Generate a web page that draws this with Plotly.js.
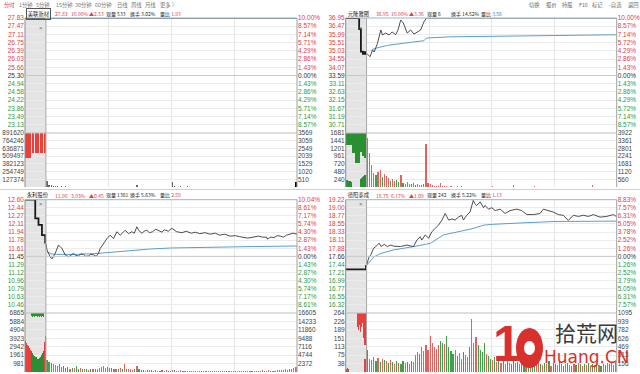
<!DOCTYPE html>
<html><head><meta charset="utf-8">
<script src="https://cdn.plot.ly/plotly-3.0.1.min.js"></script>
<style>html,body{margin:0;padding:0;background:#fff}#chart{width:640px;height:374px}</style>
</head><body><div id="chart"></div>
<script>
// ---------------- DATA ----------------
const menuTabs = ['分时','1分钟','5分钟','15分钟','30分钟','60分钟','日线','周线','月线','更多 〉'];
const menuTools = ['切换','报价','持股','F10','标记','-自选','返回'];

const names   = ['美联新材','元隆雅图','永利股份','德阳泰成'];
const lastPx  = ['27.83','36.95','11.90','18.75'];
const lastPct = ['10.00%','10.00%','3.93%','6.17%'];
const change  = ['▲2.53','▲3.36','▲0.45','▲1.09'];
const curVol  = ['533','6','1381','242'];
const turnover= ['3.02%','14.52%','5.63%','5.22%'];
const volRatio= ['1.93','3.56','2.59','1.13'];

// tick labels
const p1PriceTicks = ['27.83','27.47','27.11','26.75','26.39','26.03','25.66','25.30','24.94','24.58','24.22','23.86','23.49','23.13'];
const p1PctTicks   = ['10.00%','8.57%','7.14%','5.71%','4.29%','2.86%','1.43%','0.00%','1.43%','2.86%','4.29%','5.71%','7.14%','8.57%'];
const p1VolTicks   = ['891620','764246','636871','509497','382123','254749','127374'];
const p1VolTicksR  = ['3569','3059','2549','2039','1529','1020','510'];

const p2PriceTicks = ['36.95','36.47','35.99','35.51','35.03','34.55','34.07','33.59','33.11','32.63','32.15','31.67','31.19','30.71'];
const p2PctTicks   = ['10.00%','8.57%','7.14%','5.72%','4.29%','2.86%','1.43%','0.00%','1.43%','2.86%','4.29%','5.72%','7.14%','8.57%'];
const p2VolTicks   = ['1681','1441','1201','961','720','480','240'];
const p2VolTicksR  = ['3922','3361','2801','2241','1681','1120','560'];

const p3PriceTicks = ['12.60','12.44','12.27','12.11','11.94','11.78','11.61','11.45','11.29','11.12','10.96','10.79','10.63','10.46'];
const p3PctTicks   = ['10.04%','8.61%','7.17%','5.74%','4.30%','2.87%','1.43%','0.00%','1.43%','2.87%','4.30%','5.74%','7.17%','8.61%'];
const p3VolTicks   = ['6865','5884','4904','3923','2942','1961','981'];
const p3VolTicksR  = ['16605','14233','11860','9488','7116','4744','2372'];

const p4PriceTicks = ['19.22','19.00','18.77','18.55','18.33','18.11','17.88','17.66','17.44','17.21','16.99','16.77','16.55','16.32'];
const p4PctTicks   = ['8.83%','7.57%','6.31%','5.05%','3.78%','2.52%','1.26%','0.00%','1.26%','2.52%','3.79%','5.05%','6.31%','7.57%'];
const p4VolTicks   = ['264','226','189','151','113','75','38'];
const p4VolTicksR  = ['1095','939','782','626','469','313','156'];

// price lines (minutes from 9:30; negative = call auction)
const p1AucT = [-20, 0];            const p1AucP = [27.83, 27.83];
const p1T = [0, 240];               const p1P = [27.83, 27.83];
const p1AvgT = [0, 240];            const p1Avg = [27.83, 27.83];

const p2AucT = [-20, -8.6, -7.1, -5.4, -3.5, -2.1, -0.7];
const p2AucP = [36.95, 36.95, 36.30, 34.98, 34.85, 34.95, 34.80];
const p2T = [0, 2, 3.4, 5.7, 7.3, 10.5, 13.7, 15.3, 18.4, 21.6, 24.5, 28, 30.2, 32.8, 35.3, 39, 42.3, 45.5, 48.7, 51.9, 55, 57.6, 240];
const p2P = [34.88, 34.79, 34.69, 35.08, 34.96, 35.47, 36.25, 35.96, 36.07, 35.96, 36.13, 35.98, 36.25, 36.83, 36.66, 36.07, 36.25, 36.01, 36.13, 36.25, 36.72, 36.95, 36.95];
const p2AvgT = [5, 10, 20, 33, 45, 55, 57.6, 80, 120, 180, 205, 240];
const p2Avg  = [35.10, 35.20, 35.35, 35.47, 35.55, 35.62, 35.78, 35.85, 35.88, 35.90, 35.95, 35.97];

const p3AucT = [-20, -11.8, -10.2, -7.1, -3.8, -0.7];
const p3AucP = [12.60, 12.60, 12.22, 12.09, 11.88, 11.71];
const p3T = [0, 1, 4.1, 5.8, 8.9, 12, 15.3, 18.4, 21.6, 24, 26.4, 28.5, 31.1, 33.5, 35.9, 38, 40.7, 43, 45.5, 48, 50.2, 51.9, 55, 58.3, 61.4, 64.6, 67.8, 71, 73.5, 75.8, 78.9, 82.1, 84.5, 86.9, 89, 91.7, 94, 96.5, 99, 102, 105, 108, 111, 113, 117, 120.3, 125, 130, 134, 139, 143, 147, 152, 157, 162, 166, 171, 176, 181, 185, 189, 193, 198, 203, 207, 211, 211.5, 215, 218, 221, 224, 227, 230, 233, 236, 240];
const p3P = [11.71, 11.58, 11.44, 11.40, 11.51, 11.68, 11.61, 11.48, 11.44, 11.47, 11.51, 11.47, 11.46, 11.50, 11.49, 11.45, 11.46, 11.49, 11.48, 11.45, 11.51, 11.61, 11.71, 11.81, 11.88, 11.81, 11.95, 11.88, 11.93, 11.98, 11.91, 11.95, 11.92, 12.05, 11.97, 11.92, 11.96, 11.98, 11.93, 11.95, 12.00, 11.97, 11.94, 11.99, 11.96, 12.02, 11.95, 11.93, 11.96, 11.92, 11.94, 11.91, 11.93, 11.90, 11.92, 11.88, 11.90, 11.86, 11.87, 11.85, 11.84, 11.82, 11.84, 11.86, 11.84, 11.84, 11.80, 11.84, 11.83, 11.87, 11.86, 11.84, 11.88, 11.90, 11.92, 11.90];
const p3AvgT = [1, 5, 10, 30, 50, 80, 100, 120, 160, 200, 240];
const p3Avg  = [11.54, 11.50, 11.49, 11.49, 11.51, 11.57, 11.60, 11.62, 11.64, 11.65, 11.66];

const p4AucT = [-20, -2, -0.5];
const p4AucP = [17.30, 17.30, 17.42];
const p4T = [0, 2.5, 4.1, 6.7, 8.9, 12.1, 14, 16.9, 20, 23, 26.1, 32.4, 38.7, 45.1, 48.3, 51.5, 53, 56.3, 59.5, 62.7, 65.9, 69.1, 72.3, 75.5, 77.1, 78.7, 81.9, 85, 88.1, 91.3, 92.9, 96.1, 99.3, 100.9, 102.4, 104, 105.6, 109, 112.2, 113.8, 117, 120.2, 123.4, 128.2, 133, 137.7, 144.1, 148.9, 153.7, 160, 166.4, 169.6, 176, 179.2, 184, 188.8, 193.6, 198.4, 203.2, 208, 212.8, 217.6, 224, 230.4, 236.8, 240];
const p4P = [17.42, 17.65, 17.70, 17.88, 17.93, 18.02, 17.93, 17.99, 17.93, 17.97, 17.94, 17.93, 17.97, 17.93, 18.11, 18.20, 18.11, 18.25, 18.16, 18.34, 18.43, 18.52, 18.66, 18.84, 18.75, 18.66, 18.69, 18.66, 18.74, 18.79, 18.66, 18.79, 18.88, 19.06, 19.20, 19.11, 19.06, 19.16, 19.00, 19.06, 18.96, 19.00, 18.92, 18.96, 18.84, 18.92, 18.96, 18.92, 18.81, 18.81, 18.84, 18.96, 18.92, 18.88, 18.81, 18.79, 18.65, 18.79, 18.76, 18.79, 18.76, 18.81, 18.74, 18.76, 18.81, 18.75];
const p4AvgT = [0, 7.3, 13.7, 26.4, 45.5, 61.4, 73.9, 90.1, 102.8, 112.3, 120.2, 147.9, 179.7, 240];
const p4Avg  = [17.42, 17.65, 17.74, 17.84, 17.93, 18.02, 18.25, 18.34, 18.43, 18.52, 18.54, 18.58, 18.62, 18.63];

// call-auction volume: minutes, lower edge of bars hanging from the top, bars rising from zero
const aucT = [-19.5,-18.5,-17.5,-16.5,-15.5,-14.5,-13.5,-12.5,-11.5,-10.5,-9.5,-8.5,-7.5,-6.5,-5.5,-4.5,-3.5,-2.5,-1.5,-0.5];
const p1AucHang = [478000,478000,478000,478000,478000,478000,891620,561000,561000,891620,561000,561000,561000,891620,561000,561000,561000,891620,561000,561000];
const p1AucLow  = [0,0,0,0,0,0,0,0,0,0,0,0,0,0,0,0,0,0,0,0];
const p1AucDir  = 'rrrrrrrrrrrrrrrrrrrr';
const p2AucHang = [1306,1306,1306,1306,1306,1306,1057,1057,1057,746,746,746,746,746,1100,1100,950,950,900,900];
const p2AucLow  = [220,220,200,200,180,150,0,0,0,0,0,0,0,0,250,280,300,350,373,400];
const p2AucDir  = 'gggggggggggggggggggg';
const p3AucHang = [6865,6865,6865,6865,6865,6865,6500,6450,6500,6400,6500,6450,6500,6400,6500,6450,6500,6400,6865,6865];
const p3AucLow  = [3600,3400,3200,3000,2800,2600,2400,2200,2000,1900,1700,1500,1500,1600,1800,2000,2200,2500,3500,4200];
const p3AucDir  = 'rrrrrrggggggggggggrr';
const p4AucHang = [264,264,264,264,264,264,264,264,264,264,264,200,190,210,180,200,220,150,120,60];
const p4AucLow  = [15,20,15,0,0,0,0,0,0,0,0,0,0,0,0,0,0,0,60,120];
const p4AucDir  = 'rrrrrrrrrrrrrrrrrrrr';

// per 2-minute volume bars (9:31 .. 14:59)
const p1Vol = [99000,40000,25000,18000,12000,15000,8000,10000,6000,9000,
  5000,7000,4000,8000,5000,6000,3000,5000,4000,6000,
  3000,4000,5000,3000,2000,4000,3000,5000,2000,3000,
  4000,2000,3000,5000,2000,3000,2000,4000,3000,2000,
  3000,2000,6000,30000,8000,3000,2000,3000,2000,4000,
  2000,3000,2000,2000,3000,2000,4000,2000,3000,2000,
  87000,20000,8000,5000,12000,6000,4000,9000,3000,5000,
  3000,4000,2000,3000,2000,5000,2000,3000,2000,2000,
  3000,2000,2000,4000,2000,3000,2000,2000,3000,2000,
  2000,3000,2000,2000,2000,3000,2000,2000,2000,3000,
  2000,2000,3000,2000,2000,2000,3000,2000,2000,2000,
  3000,2000,2000,2000,3000,2000,2000,3000,4000,87000];
const p1VolDir = 'nnnnnnnnnnnnnnnnnnnnnnnnnnnnnnnnnnnnnnnnnnnnnnnnnnnnnnnnnnnnnnnnnnnnnnnnnnnnnnnnnnnnnnnnnnnnnnnnnnnnnnnnnnnnnnnnnnnnnn';

const p2Vol = [1514,1048,700,450,380,460,520,300,400,350,
  280,200,250,180,220,150,373,120,100,150,
  90,80,120,60,80,70,60,90,1340,120,
  100,60,40,30,30,130,25,20,30,15,
  20,15,10,22,12,16,9,11,14,8,
  10,7,12,15,6,11,9,13,7,10,
  18,12,8,11,6,10,9,12,7,9,
  60,11,7,10,9,12,6,10,8,11,
  40,9,7,12,8,10,6,11,9,8,
  7,11,9,10,6,12,8,9,7,10,
  9,12,7,10,8,11,6,9,50,10,
  8,11,9,10,7,12,8,10,9,15];
const p2VolDir = 'rrrrgrrgrr'+'rgrrggrgrr'+'rgrgrrgrrr'+'rrrrrrrrrrrrrrrrrrrrrrrrrrrrrrrrrrrrrrrrrrrrrrrrrrrrrrrrrrrrrrrrrrrrrrrrrrrrrrrrrrrrrrrrrr';

const p3Vol = [1400,1200,1000,900,800,700,900,600,700,500,
  600,400,500,450,700,350,450,300,400,350,
  250,300,350,400,300,500,600,700,500,600,
  450,500,400,350,300,450,300,930,400,350,
  300,250,300,700,300,250,200,150,200,250,
  180,150,220,130,160,200,120,180,150,140,
  250,200,160,130,180,110,150,120,170,100,
  140,120,160,90,130,110,150,100,120,140,
  110,150,100,130,90,160,120,100,140,110,
  130,100,150,120,90,140,110,130,100,160,
  120,140,100,180,130,110,200,150,170,130,
  220,180,250,200,300,250,350,300,450,600];
const p3VolDir = 'gggrrrgggg'+'grgrggrgrg'+'rgrgrrrrrr'+'rgrrgrgrgr'+'rrgrgrgrgr'+'grgrgrgrgr'+'rgggrgrggg'+'rgrgrggrgg'+'grgrgrggrg'+'grgrgggrgr'+'rgrrgrrgrr'+'rrgrrrgrrr';

const p4Vol = [98,60,55,68,50,62,45,58,52,48,
  40,55,45,38,50,42,35,48,40,45,
  38,50,44,75,90,80,110,95,120,100,
  161,130,110,105,120,140,130,125,161,110,
  95,80,100,70,85,60,90,75,65,110,
  235,130,158,120,100,90,130,80,70,60,
  55,65,45,50,40,55,38,48,42,35,
  50,40,45,35,52,38,44,30,40,36,
  32,45,55,38,30,42,35,50,28,40,
  36,30,44,38,26,35,40,32,28,38,
  30,42,34,26,36,30,40,28,34,30,
  38,32,26,36,30,42,34,40,30,45];
const p4VolDir = 'grrrgrgrgr'+'grgrgrggrg'+'rgrrrgrrrr'+'rrrrrggrgg'+'ggrgrrgrrg'+'rrrggggrgg'+'rgrgrgrgrg'+'grgrggrgrg'+'grrgrgrgrg'+'grgrgrgrgr'+'grgrgrgrgr'+'grgrgrgrrr';

// ---------------- BUILD ----------------
const W = 640, H = 374;
const RED = '#e0403e', GREEN = '#2d9a37', DARK = '#333333';
const VRED = '#e5605f', VGREEN = '#3fa046';
const FONT = 'Liberation Sans, Arial, sans-serif';
const CJK = 'Noto Sans CJK SC, sans-serif';

const series = [
  {aucT:p1AucT,aucP:p1AucP,t:p1T,p:p1P,avgT:p1AvgT,avg:p1Avg,pt:p1PriceTicks,pct:p1PctTicks,vt:p1VolTicks,vtr:p1VolTicksR,hang:p1AucHang,low:p1AucLow,adir:p1AucDir,vol:p1Vol,vdir:p1VolDir},
  {aucT:p2AucT,aucP:p2AucP,t:p2T,p:p2P,avgT:p2AvgT,avg:p2Avg,pt:p2PriceTicks,pct:p2PctTicks,vt:p2VolTicks,vtr:p2VolTicksR,hang:p2AucHang,low:p2AucLow,adir:p2AucDir,vol:p2Vol,vdir:p2VolDir},
  {aucT:p3AucT,aucP:p3AucP,t:p3T,p:p3P,avgT:p3AvgT,avg:p3Avg,pt:p3PriceTicks,pct:p3PctTicks,vt:p3VolTicks,vtr:p3VolTicksR,hang:p3AucHang,low:p3AucLow,adir:p3AucDir,vol:p3Vol,vdir:p3VolDir},
  {aucT:p4AucT,aucP:p4AucP,t:p4T,p:p4P,avgT:p4AvgT,avg:p4Avg,pt:p4PriceTicks,pct:p4PctTicks,vt:p4VolTicks,vtr:p4VolTicksR,hang:p4AucHang,low:p4AucLow,adir:p4AucDir,vol:p4Vol,vdir:p4VolDir},
];
const GEOM = [
  {x0:25,    x1:297,   pTop:18,    pBot:133, vBot:187, tY:13.5},
  {x0:345.7, x1:616.7, pTop:18,    pBot:133, vBot:187, tY:13.5},
  {x0:25,    x1:297,   pTop:199.7, pBot:313, vBot:372, tY:195},
  {x0:345.7, x1:616.7, pTop:199.7, pBot:313, vBot:372, tY:195},
];
const TITLE_OFFSETS = [28, 43.5, 61.5, 79, 103, 133];  // x offsets of quote items from the panel's left edge
const px = v => v / W, py = v => 1 - v / H;
const axName = (k, n) => k + (n === 1 ? '' : n);
const colorOf = c => c === 'r' ? VRED : (c === 'g' ? VGREEN : '#666');
const aucColorOf = c => c === 'r' ? '#e8403c' : (c === 'g' ? '#2a8f33' : '#666');

const traces = [], layout = {
  width: W, height: H, margin: {l:0, r:0, t:0, b:0},
  paper_bgcolor: '#ffffff', plot_bgcolor: 'rgba(0,0,0,0)',
  showlegend: false, bargap: 0, barmode: 'overlay',
  font: {family: FONT, size: 6.5, color: DARK},
  shapes: [], annotations: []
};

series.forEach((s, i) => {
  const g = GEOM[i];
  const xn = i + 1, yP = 4*i + 1, yPR = 4*i + 2, yV = 4*i + 3, yVR = 4*i + 4;
  const xr = axName('x', xn);
  const top = parseFloat(s.pt[0]), pc = parseFloat(s.pt[7]);
  const step = (top - pc) / 7, bot = top - 14 * step;
  const tv = s.pt.map((_, k) => top - k * step);
  const colr = k => k < 7 ? RED : (k === 7 ? DARK : GREEN);
  const vmax = parseFloat(s.vt[0]), vmaxR = parseFloat(s.vtr[0]);
  const vtv = s.vt.map((_, k) => vmax * (7 - k) / 7);
  const vtvR = s.vtr.map((_, k) => vmaxR * (7 - k) / 7);

  layout[axName('xaxis', xn)] = {domain:[px(g.x0), px(g.x1)], range:[-20, 240], anchor: axName('y', yV),
    tickvals:[0, 60, 120, 180], showticklabels:false, ticks:'', showgrid:true, gridcolor:'#e6e6e6', gridwidth:1,
    zeroline:false, showline:false, fixedrange:true};
  layout[axName('yaxis', yP)] = {domain:[py(g.pBot), py(g.pTop)], range:[bot, top], anchor: xr, side:'left',
    tickvals: tv, ticktext: s.pt.map((t, k) => `<span style="color:${colr(k)}">${t}</span>`),
    ticks:'', showgrid:true, gridcolor:'#ececec', zeroline:false, showline:false, tickfont:{size:6.5, family:FONT}, fixedrange:true};
  layout[axName('yaxis', yPR)] = {overlaying: axName('y', yP), range:[bot, top], anchor: xr, side:'right',
    tickvals: tv, ticktext: s.pct.map((t, k) => `<span style="color:${colr(k)}">${t}</span>`),
    ticks:'', showgrid:false, zeroline:false, showline:false, tickfont:{size:6.5, family:FONT}, fixedrange:true};
  layout[axName('yaxis', yV)] = {domain:[py(g.vBot), py(g.pBot)], range:[0, vmax], anchor: xr, side:'left',
    tickvals: vtv, ticktext: s.vt, ticks:'', showgrid:true, gridcolor:'#ececec', zeroline:false, showline:false,
    tickfont:{size:6.5, family:FONT, color:'#444'}, fixedrange:true};
  layout[axName('yaxis', yVR)] = {overlaying: axName('y', yV), range:[0, vmaxR], anchor: xr, side:'right',
    tickvals: vtvR, ticktext: s.vtr, ticks:'', showgrid:false, zeroline:false, showline:false,
    tickfont:{size:6.5, family:FONT, color:'#444'}, fixedrange:true};

  layout.shapes.push({type:'rect', xref:xr, yref:'paper', x0:-20, x1:0, y0:py(g.vBot), y1:py(g.pTop),
    fillcolor:'#e4e4e4', line:{width:0}, layer:'below'});

  traces.push({type:'bar', x:aucT, y:s.hang.map(b => vmax - b), base:s.hang, width:1,
    marker:{color:s.adir.split('').map(aucColorOf), line:{width:0}}, xaxis:xr, yaxis:axName('y', yV), hoverinfo:'skip'});
  traces.push({type:'bar', x:aucT, y:s.low, width:1,
    marker:{color:s.adir.split('').map(aucColorOf), line:{width:0}}, xaxis:xr, yaxis:axName('y', yV), hoverinfo:'skip'});
  traces.push({type:'bar', x:s.vol.map((_, k) => 1 + 2*k), y:s.vol, width:1.1,
    marker:{color:s.vdir.split('').map(colorOf), line:{width:0}}, xaxis:xr, yaxis:axName('y', yV), hoverinfo:'skip'});
  traces.push({type:'scatter', mode:'markers', x:[-20], y:[0], marker:{opacity:0}, xaxis:xr, yaxis:axName('y', yVR), hoverinfo:'skip'});
  traces.push({type:'scatter', mode:'lines', x:s.avgT, y:s.avg, line:{color:'#5a9ed2', width:1}, xaxis:xr, yaxis:axName('y', yP), hoverinfo:'skip'});
  traces.push({type:'scatter', mode:'lines', x:s.t, y:s.p, line:{color:'#3a3a3a', width:0.9}, xaxis:xr, yaxis:axName('y', yP), hoverinfo:'skip'});
  traces.push({type:'scatter', mode:'lines', x:s.aucT, y:s.aucP, line:{color:'#1a1a1a', width:1.8, shape:'hv'}, xaxis:xr, yaxis:axName('y', yP), hoverinfo:'skip'});
  traces.push({type:'scatter', mode:'markers', x:[-20], y:[pc], marker:{opacity:0}, xaxis:xr, yaxis:axName('y', yPR), hoverinfo:'skip'});

  const L = (x0, y0, x1, y1, c, w) => layout.shapes.push({type:'line', xref:'paper', yref:'paper',
    x0:px(x0), x1:px(x1), y0:py(y0), y1:py(y1), line:{color:c, width:w||1}});
  L(g.x0, g.pTop, g.x0, g.vBot, '#8c8c8c');
  L(g.x1, g.pTop, g.x1, g.vBot, '#a0a0a0');
  L(g.x0, g.pTop, g.x1, g.pTop, '#9ab4c8');
  L(g.x0, g.pBot, g.x1, g.pBot, '#bdbdbd');
  layout.shapes.push({type:'line', xref:xr, yref:'paper', x0:0, x1:0, y0:py(g.vBot), y1:py(g.pTop), line:{color:'#a8a8a8', width:1}});
  layout.shapes.push({type:'line', xref:'paper', yref:axName('y', yP), x0:px(g.x0), x1:px(g.x1), y0:pc, y1:pc, line:{color:'#c8c8c8', width:1}});

  // title row
  const fs = 5;
  layout.annotations.push({xref:'paper', yref:'paper', x:px(g.x0 + 1), y:py(g.tY), xanchor:'left', yanchor:'middle',
    text: names[i], showarrow:false, font:{family:CJK, size:5.3, color:'#222'},
    bordercolor: i === 0 ? '#555' : 'rgba(0,0,0,0)', borderwidth: i === 0 ? 1 : 0, borderpad: 0.8});
  const ratioCol = i === 1 ? '#3a7fc0' : RED;
  const items = [
    {t:lastPx[i], c:RED}, {t:lastPct[i], c:RED}, {t:change[i], c:RED},
    {t:'现量 ' + curVol[i], c:'#222'}, {t:'换手 ' + turnover[i], c:'#222'},
    {t:'量比 <span style="color:' + ratioCol + '">' + volRatio[i] + '</span>', c:'#222'}];
  items.forEach((it, k) => {
    layout.annotations.push({xref:'paper', yref:'paper', x:px(g.x0 + TITLE_OFFSETS[k]), y:py(g.tY), xanchor:'left', yanchor:'middle',
      text: it.t, showarrow:false, font:{family:CJK, size:fs, color:it.c}});
  });
  layout.annotations.push({xref:xr, yref:'paper', x:-5, y:py(g.pTop + 4.5), text:'×', showarrow:false,
    font:{family:FONT, size:6, color:'#777'}});
});

layout.shapes.push({type:'line', xref:'paper', yref:'paper', x0:0, x1:1, y0:py(189.5), y1:py(189.5), line:{color:'#cfcfcf', width:1}});

// menu bar
const tabX = [2, 16.5, 34, 54, 72.5, 92.5, 115, 129, 143, 158];
menuTabs.forEach((t, k) => layout.annotations.push({xref:'paper', yref:'paper', x:px(tabX[k]), y:py(4.8), xanchor:'left', yanchor:'middle',
  text:t, showarrow:false, font:{family:CJK, size:5.3, color: k === 0 ? '#e0403e' : '#777'}}));
const toolX = [527, 543.5, 560, 576.5, 590, 606.5, 626];
menuTools.forEach((t, k) => layout.annotations.push({xref:'paper', yref:'paper', x:px(toolX[k]), y:py(4.8), xanchor:'left', yanchor:'middle',
  text:t, showarrow:false, font:{family:CJK, size:5.3, color:'#666'}}));

// watermark
layout.annotations.push({xref:'paper', yref:'paper', x:px(507), y:py(344), xanchor:'center', yanchor:'middle',
  text:'<b>1</b>', showarrow:false, font:{family:'Liberation Sans', size:50, color:'#d8302c'}});
layout.shapes.push({type:'circle', xref:'paper', yref:'paper', x0:px(516), x1:px(543), y0:py(368), y1:py(328), fillcolor:'#d8302c', line:{width:0}});
layout.shapes.push({type:'circle', xref:'paper', yref:'paper', x0:px(524), x1:px(535), y0:py(355), y1:py(341), fillcolor:'#ffffff', line:{width:0}});
layout.annotations.push({xref:'paper', yref:'paper', x:px(553), y:py(332), xanchor:'left', yanchor:'middle',
  text:'拾荒网', showarrow:false, font:{family:CJK, size:21, color:'#3a3a3a'}});
layout.annotations.push({xref:'paper', yref:'paper', x:px(542), y:py(357), xanchor:'left', yanchor:'middle',
  text:'Huang.CN', showarrow:false, font:{family:'DejaVu Sans', size:17, color:'#d8302c'}});

Plotly.newPlot('chart', traces, layout, {staticPlot:true, displayModeBar:false});
</script></body></html>
